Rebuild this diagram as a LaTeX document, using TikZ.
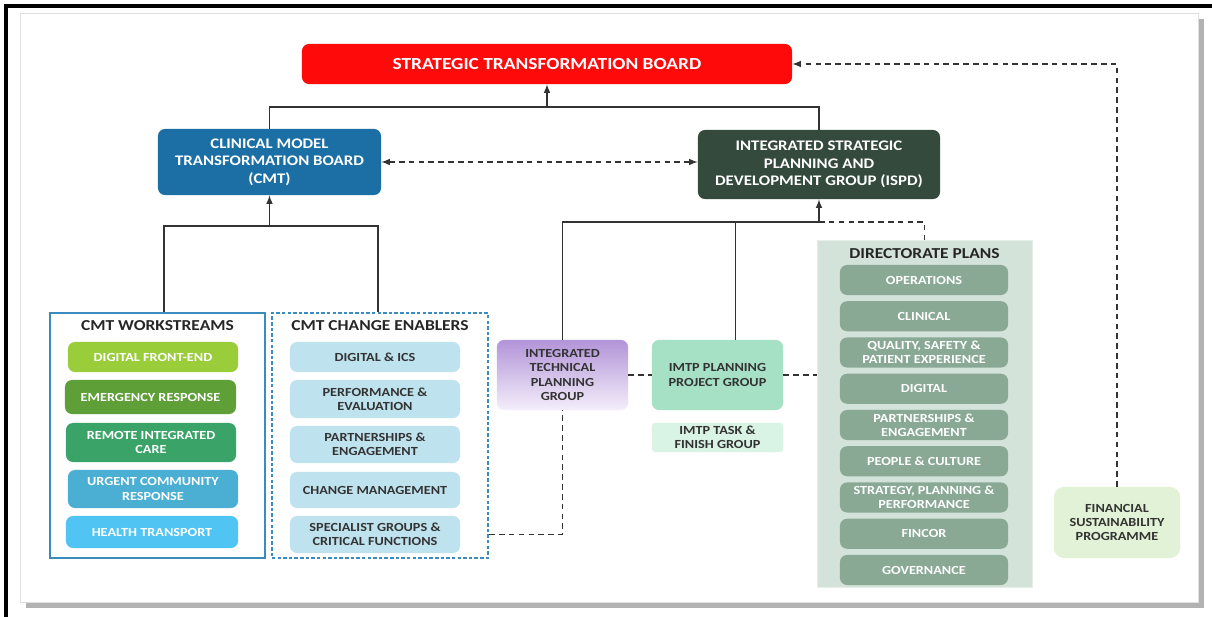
\documentclass[tikz,border=0pt]{standalone}
\usepackage{fontspec}
\setmainfont{Carlito}[FakeStretch=1.15]

\definecolor{stbred}{HTML}{FF0A0A}
\definecolor{cmtblue}{HTML}{1B6FA5}
\definecolor{ispdgreen}{HTML}{344A3C}
\definecolor{wsframe}{HTML}{3A8CBE}
\definecolor{dfecol}{HTML}{9ACD3A}
\definecolor{ercol}{HTML}{5E9F38}
\definecolor{riccol}{HTML}{3AA468}
\definecolor{ucrcol}{HTML}{4AAFD2}
\definecolor{htcol}{HTML}{50C4F2}
\definecolor{enabler}{HTML}{BFE3EE}
\definecolor{itpgtop}{HTML}{B294D8}
\definecolor{itpgbot}{HTML}{F4EEFA}
\definecolor{imtpcol}{HTML}{A6E1C6}
\definecolor{taskfin}{HTML}{D9F3E5}
\definecolor{dirpanel}{HTML}{D3E3DA}
\definecolor{diritem}{HTML}{89A995}
\definecolor{fspcol}{HTML}{E1F2D6}
\definecolor{linegray}{HTML}{333333}

\tikzset{
  box/.style={rounded corners=5pt, align=center, inner sep=1pt, font=\bfseries\fontsize{8.8}{10.2}\selectfont},
  whitebox/.style={box, text=white},
  darkbox/.style={box, text=black!80},
  panetitle/.style={font=\bfseries\fontsize{10.8}{12}\selectfont, text=black!85},
  link/.style={draw=linegray, line width=1.1pt},
  dashlink/.style={draw=linegray, line width=1.1pt, dash pattern=on 4pt off 3pt},
}

\begin{document}
\begin{tikzpicture}[x=0.025cm, y=-0.025cm, >=latex]
	\useasboundingbox (0,0) rectangle (1212,617);
	% page frame
	\fill[black!30] (26,19) rectangle (1204,608);
	\fill[white] (20,13) rectangle (1198,602);
	\draw[black!12] (20,13) rectangle (1198,602);
	\draw[line width=2.2pt] (6,617) -- (6,6) -- (1212,6);

	% boards
	\node[whitebox, fill=stbred, minimum width=12.25cm, minimum height=1cm, font=\bfseries\fontsize{12}{14}\selectfont] (stb) at (547,64) {STRATEGIC TRANSFORMATION BOARD};
	\node[whitebox, fill=cmtblue, minimum width=5.575cm, minimum height=1.65cm, font=\bfseries\fontsize{10.4}{12.4}\selectfont] (cmt) at (269.5,162) {CLINICAL MODEL\\TRANSFORMATION BOARD\\(CMT)};
	\node[whitebox, fill=ispdgreen, minimum width=6.05cm, minimum height=1.725cm, font=\bfseries\fontsize{10.4}{12.4}\selectfont] (ispd) at (819,164.5) {INTEGRATED STRATEGIC\\PLANNING AND\\DEVELOPMENT GROUP (ISPD)};

	% workstreams
	\node[draw=wsframe, line width=1.6pt, minimum width=5.375cm, minimum height=6.125cm] (ws) at (157.5,435.5) {};
	\node[panetitle] (wstitle) at (157.5,326) {CMT WORKSTREAMS};
	\node[whitebox, fill=dfecol, minimum width=4.25cm, minimum height=0.75cm] (ws1) at (153,357) {DIGITAL FRONT-END};
	\node[whitebox, fill=ercol, minimum width=4.275cm, minimum height=0.85cm] (ws2) at (150.5,397) {EMERGENCY RESPONSE};
	\node[whitebox, fill=riccol, minimum width=4.25cm, minimum height=0.975cm] (ws3) at (151,442.5) {REMOTE INTEGRATED\\CARE};
	\node[whitebox, fill=ucrcol, minimum width=4.25cm, minimum height=0.95cm] (ws4) at (153,489) {URGENT COMMUNITY\\RESPONSE};
	\node[whitebox, fill=htcol, minimum width=4.3cm, minimum height=0.8cm] (ws5) at (152,532) {HEALTH TRANSPORT};

	% change enablers
	\node[draw=wsframe, line width=1.6pt, dash pattern=on 2.5pt off 1.5pt, minimum width=5.4cm, minimum height=6.125cm] (ce) at (380,435.5) {};
	\node[panetitle] (cetitle) at (380,326) {CMT CHANGE ENABLERS};
	\foreach \n/\y/\h/\t in {1/357/0.75/{DIGITAL \& ICS}, 2/399/0.95/{PERFORMANCE \&\\EVALUATION}, 3/444.5/0.925/{PARTNERSHIPS \&\\ENGAGEMENT}, 4/490/0.9/{CHANGE MANAGEMENT}, 5/534.5/0.925/{SPECIALIST GROUPS \&\\CRITICAL FUNCTIONS}}
		\node[darkbox, fill=enabler, minimum width=4.25cm, minimum height=\h cm] (ce\n) at (375,\y) {\t};

	% planning groups
	\node[darkbox, top color=itpgtop, bottom color=itpgbot, minimum width=3.275cm, minimum height=1.75cm] (itpg) at (562.5,375) {INTEGRATED\\TECHNICAL\\PLANNING\\GROUP};
	\node[darkbox, fill=imtpcol, minimum width=3.275cm, minimum height=1.75cm] (imtp) at (717.5,375) {IMTP PLANNING\\PROJECT GROUP};
	\node[darkbox, fill=taskfin, rounded corners=2pt, minimum width=3.275cm, minimum height=0.725cm] (task) at (717.5,437.5) {IMTP TASK \&\\FINISH GROUP};

	% directorate plans
	\node[fill=dirpanel, draw=dirpanel!60!white, minimum width=5.375cm, minimum height=8.675cm] (dirp) at (924.5,413.5) {};
	\node[panetitle] (dirtitle) at (924.5,254) {DIRECTORATE PLANS};
	\foreach \t [count=\i from 0] in {OPERATIONS, CLINICAL, {QUALITY, SAFETY \&\\PATIENT EXPERIENCE}, DIGITAL, {PARTNERSHIPS \&\\ENGAGEMENT}, {PEOPLE \& CULTURE}, {STRATEGY, PLANNING \&\\PERFORMANCE}, FINCOR, GOVERNANCE}
		\node[whitebox, fill=diritem, minimum width=4.2cm, minimum height=0.75cm] (dir\i) at (924,{280+36.25*\i}) {\t};

	\node[darkbox, fill=fspcol, rounded corners=7pt, minimum width=3.15cm, minimum height=1.775cm] (fsp) at (1117,522.5) {FINANCIAL\\SUSTAINABILITY\\PROGRAMME};

	% connectors
	\coordinate (topjoin) at (547,107);
	\draw[link] (cmt.north) |- (topjoin) -| (ispd.north);
	\draw[link,->] (topjoin) -- (stb.south);
	\coordinate (cmtjoin) at (269.5,226);
	\draw[link] ([xshift=0.16cm]ws.north) |- (cmtjoin) -| ([xshift=-0.05cm]ce.north);
	\draw[link,->] (cmtjoin) -- (cmt.south);
	\coordinate (ispdjoin) at (819,222);
	\coordinate (imtpup) at ([xshift=0.45cm]imtp.north);
	\draw[link] (itpg.north) |- (ispdjoin);
	\draw[link] (imtpup) -- (imtpup |- ispdjoin);
	\draw[link,->] (ispdjoin) -- (ispd.south);
	\draw[dashlink] (ispdjoin) -| (dirp.north);
	\draw[dashlink] (ce.east |- ce5) -| (itpg.south);
	\draw[dashlink] (itpg) -- (imtp);
	\draw[dashlink] (imtp.east) -- (imtp.east -| dirp.west);
	\draw[dashlink,->] (fsp.north) |- (stb.east);
	\draw[dashlink,<->] (cmt.east) -- (cmt.east -| ispd.west);
\end{tikzpicture}
\end{document}
